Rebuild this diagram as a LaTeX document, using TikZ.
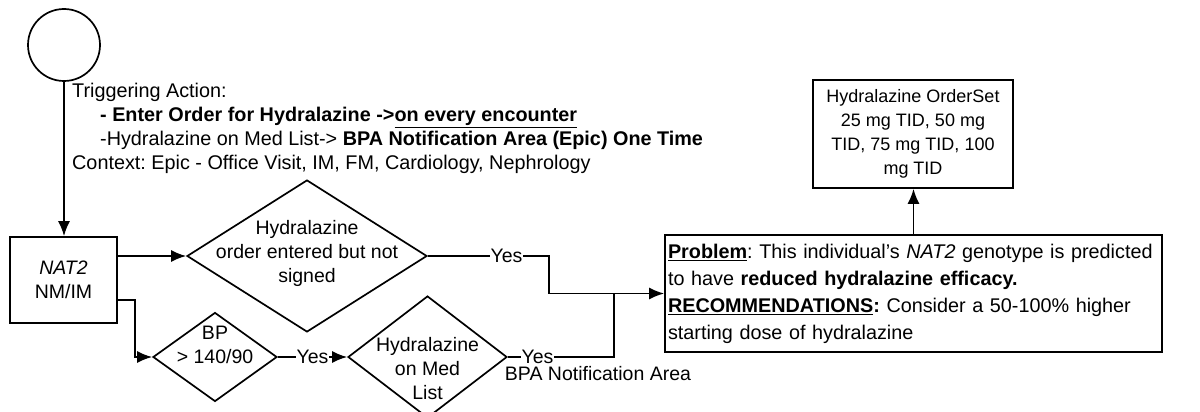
\documentclass[tikz,border=0pt]{standalone}
\usepackage{fontspec}
\setmainfont{Liberation Sans}
\usepackage{tikz}
\usetikzlibrary{shapes.geometric, arrows.meta, positioning, calc}
\frenchspacing

\tikzset{
  box/.style={draw, line width=1.7pt, inner sep=0pt, align=center},
  decision/.style={draw, diamond, line width=1.7pt, inner sep=0pt},
  txt/.style={align=center, font=\fontsize{19.5}{24}\selectfont},
  link/.style={line width=1.7pt},
  arr/.style={line width=1.7pt, -{Latex[length=15pt,width=12pt]}},
  yes/.style={fill=white, inner sep=1pt, font=\fontsize{19.5}{24}\selectfont}
}

\begin{document}
\begin{tikzpicture}[x=1pt, y=-1pt]
      \useasboundingbox (0,0) rectangle (1200,412);

      \node[draw, circle, line width=1.7pt, minimum size=72pt, inner sep=0pt] (start) at (64,45) {};
      \node[anchor=north west, inner sep=0pt, align=left, font=\fontsize{19.8}{24}\selectfont] (trigger) at (72,83) {Triggering Action:\\
        \hspace*{28pt}\textbf{- Enter Order for Hydralazine ->\underline{on every encounter}}\\
        \hspace*{28pt}-Hydralazine on Med List-> \textbf{BPA Notification Area (Epic) One Time}\\
        Context: Epic - Office Visit, IM, FM, Cardiology, Nephrology};

      \node[box, txt, minimum width=107pt, minimum height=86pt] (nat) at (63.5,280) {\textit{NAT2}\\NM/IM};

      \node[decision, minimum width=240pt, minimum height=152pt] (order) at (307,256) {};
      \node[txt] (ordertxt) at (307,253) {Hydralazine\\order entered but not\\signed};

      \node[decision, minimum width=124pt, minimum height=89pt] (bp) at (215,357) {};
      \node[txt] (bptxt) at (215,345) {BP\\> 140/90};

      \node[decision, minimum width=159pt, minimum height=122pt] (med) at (427.5,357) {};
      \node[txt] (medtxt) at (427.5,369) {Hydralazine\\on Med\\List};
      \node[txt] (bpa) at (598,374) {BPA Notification Area};

      \node[box, align=left, text width=491pt, inner xsep=3pt, minimum height=117pt, font=\fontsize{19.8}{27}\selectfont] (problem) at (913.5,293.5) {\textbf{\underline{Problem}}: This individual’s \textit{NAT2} genotype is predicted\\
        to have \textbf{reduced hydralazine efficacy.}\\
        \textbf{\underline{RECOMMENDATIONS}:} Consider a 50-100\% higher\\
        starting dose of hydralazine};

      \node[box, minimum width=200pt, minimum height=108pt, font=\fontsize{18}{24}\selectfont] (orderset) at (913,134) {Hydralazine OrderSet\\ 25 mg TID, 50 mg\\TID, 75 mg TID, 100\\mg TID};

      \draw[arr] (start.south) -- (start.south |- nat.north);
      \draw[arr] (nat.east |- order.west) -- (order.west);
      \draw[arr] ($(nat.south east)+(0,-24)$) -- ++(17,0) |- (bp.west);
      \draw[arr] (bp.east) -- node[yes] (yes2) {Yes} (med.west);

      \draw[arr] (order.east) -- node[yes, pos=0.65] (yes1) {Yes} ++(121,0) |- (problem.west);
      \draw[link] (med.east) -- node[yes, pos=0.28] (yes3) {Yes} ++(106,0) coordinate (join) -- (join |- problem.west);

      \draw[arr] (problem.north) -- (problem.north |- orderset.south);

    \end{tikzpicture}
\end{document}
